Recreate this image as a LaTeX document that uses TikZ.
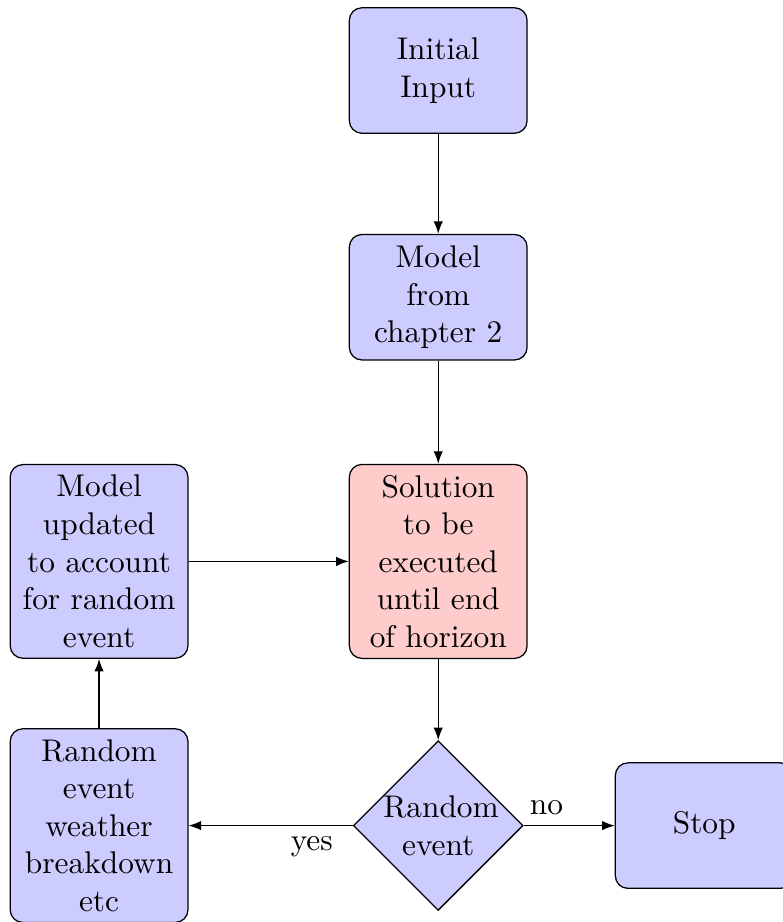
\documentclass[tikz,border=0pt]{standalone}
\usepackage{tikz}
\usetikzlibrary{arrows.meta,positioning,shapes.geometric}
\definecolor{boxblue}{RGB}{204,204,255}
\definecolor{boxred}{RGB}{255,204,204}

\begin{document}
\begin{tikzpicture}[
  block/.style={rectangle, draw, fill=boxblue, text width=5em, align=center,
                rounded corners, minimum height=4em},
  solve/.style={block, fill=boxred},
  decision/.style={diamond, draw, fill=boxblue, text width=3.5em,
                   align=center, inner sep=0pt},
  line/.style={draw, -{Latex[length=4pt,width=3pt]}},
]
\useasboundingbox (-4.91,-4.04) rectangle (3.86,6.29);

% Nodes
\node[block]    (init)   at (0,5.5)     {Initial Input};
\node[block]    (model)  at (0,2.96)    {Model from chapter 2};
\node[solve]    (sol)    at (0,0)       {Solution to be executed until end of horizon};
\node[decision] (random) at (0,-2.96)   {Random event};
\node[block]    (stop)   at (2.98,-2.96) {Stop};
\node[block]    (update) at (-3.8,0)    {Model updated to account for random event};
\node[block]    (event)  at (-3.8,-2.96) {Random event weather breakdown etc};

% Edges
\draw[line] (init) -- (model);
\draw[line] (model) -- (sol);
\draw[line] (sol) -- (random);
\draw[line] (random) -- node[near start, above]{no} (stop);
\draw[line] (random) -- node[near start, below]{yes} (event);
\draw[line] (event) -- (update);
\draw[line] (update) -- (sol);

\end{tikzpicture}
\end{document}
